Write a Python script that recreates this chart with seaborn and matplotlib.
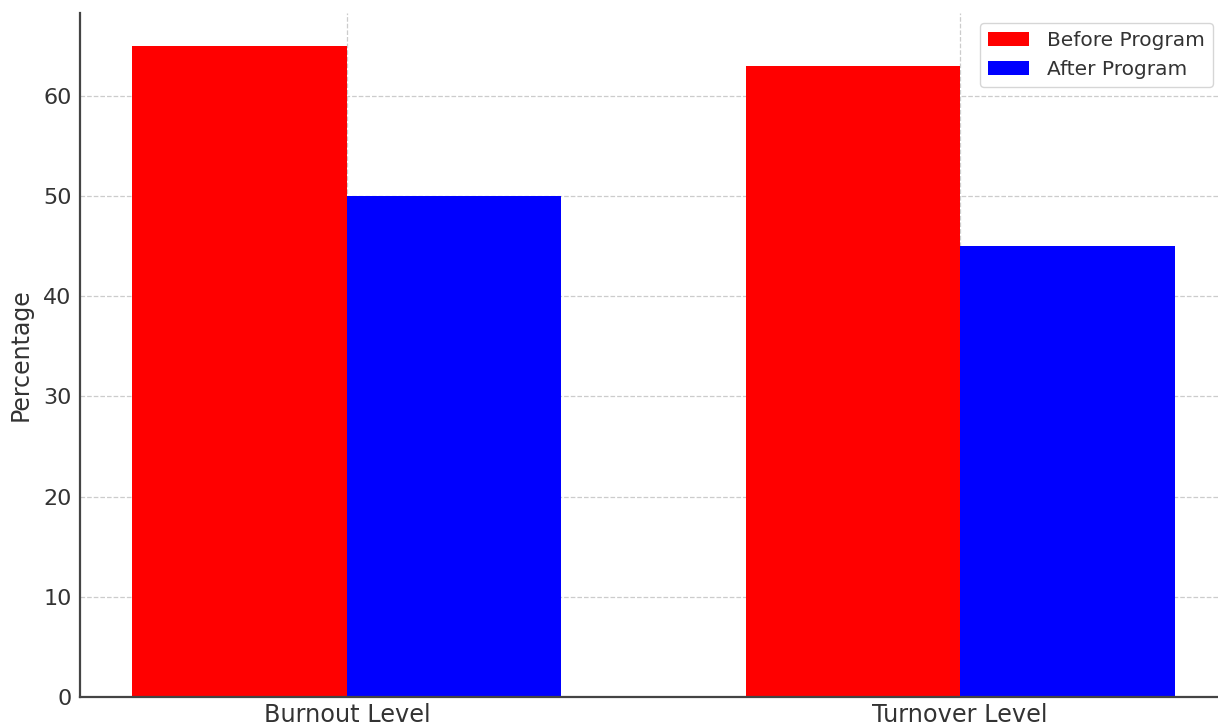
import matplotlib
matplotlib.use("Agg")
import matplotlib.pyplot as plt
import seaborn as sns
import pandas as pd

categories = ["Burnout Level", "Turnover Level"]
before_program = [65, 63]
after_program = [50, 45]
series_names = ["Before Program", "After Program"]
colors = ["#ff0000", "#0000ff"]

df = pd.DataFrame({
    "Category": categories * 2,
    "Percentage": before_program + after_program,
    "Program": [series_names[0]] * len(categories) + [series_names[1]] * len(categories),
})

sns.set_style("white")
plt.rcParams["font.family"] = ["DejaVu Sans"]

W, H = 1218, 726
fig = plt.figure(figsize=(W / 100, H / 100), dpi=100)
ax = fig.add_axes([80 / W, (H - 697) / H, (1227 - 80) / W, (697 - 13) / H])

sns.barplot(
    data=df, x="Category", y="Percentage", hue="Program",
    palette=colors, width=0.7, linewidth=0, saturation=1,
    order=categories, hue_order=series_names, ax=ax, zorder=2,
)

ax.set_xlim(-0.435, 1.435)
ax.set_ylim(0, 68.25)
ax.set_yticks([0, 10, 20, 30, 40, 50, 60])
ax.set_xlabel("")
ax.set_ylabel("Percentage", fontsize=17, color="#333333", labelpad=7.5)

ax.grid(True, axis="both", linestyle="--", color="#cccccc", linewidth=0.9, zorder=0)
ax.set_axisbelow(True)

for side in ["top", "right"]:
    ax.spines[side].set_visible(False)
for side in ["left", "bottom"]:
    ax.spines[side].set_color("#444444")
    ax.spines[side].set_linewidth(1.6)

ax.tick_params(axis="y", direction="in", length=5, width=1.2, color="#444444",
               labelsize=16, labelcolor="#333333", pad=6)
ax.tick_params(axis="x", length=0, labelsize=17.3, labelcolor="#333333", pad=4)

leg = ax.legend(loc="upper right", bbox_to_anchor=(0.9965, 1.0), fontsize=14.5,
                frameon=True, fancybox=True, edgecolor="#cccccc",
                handlelength=2.05, handleheight=0.7, handletextpad=0.9,
                borderpad=0.4, labelspacing=0.5)
for t in leg.get_texts():
    t.set_color("#333333")

fig.savefig("out.png", dpi=100)
